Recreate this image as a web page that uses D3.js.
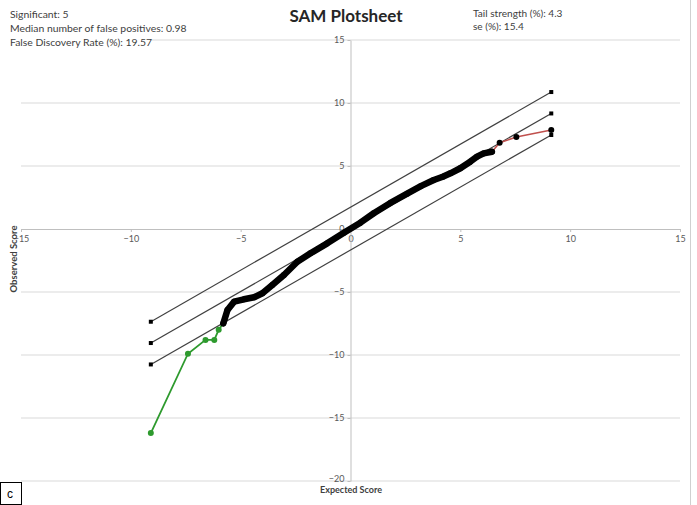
<!DOCTYPE html>
<html>
<head>
<meta charset="utf-8">
<script src="https://cdn.jsdelivr.net/npm/d3@7"></script>
<style>
  body { margin: 0; background: #fff; }
  svg { display: block; font-family: Lato, "Open Sans", sans-serif; }
</style>
</head>
<body>
<svg id="chart" width="697" height="505"></svg>
<script>
// tick values on both axes
var xTicks = [-15, -10, -5, 0, 5, 10, 15];
var yTicks = [-20, -15, -10, -5, 0, 5, 10, 15];

// delta band lines (expected, observed)
var upperBand = [[-9.09, -7.36], [9.14, 10.87]];
var middleBand = [[-9.09, -9.05], [9.14, 9.17]];
var lowerBand = [[-9.09, -10.75], [9.14, 7.46]];

// non significant genes
var blackPoints = [[-5.79, -7.49], [-5.6, -6.43], [-5.3, -5.77], [-4.85, -5.58], [-4.39, -5.42],
  [-4.01, -5.1], [-3.56, -4.44], [-3.03, -3.65], [-2.42, -2.6], [-1.82, -1.93], [-1.06, -1.14],
  [-0.3, -0.3], [0.45, 0.5], [1.06, 1.25], [1.8, 2.05], [2.58, 2.8], [3.2, 3.4], [3.79, 3.89],
  [4.2, 4.15], [4.55, 4.42], [5.0, 4.82], [5.45, 5.34], [5.76, 5.74], [6.06, 6.0], [6.44, 6.13]];

// significant up (red) and down (green)
var redPoints = [[6.44, 6.13], [6.79, 6.85], [7.55, 7.3], [9.14, 7.86]];
var greenPoints = [[-9.09, -16.2], [-7.4, -9.9], [-6.6, -8.8], [-6.2, -8.8], [-6.0, -8.0], [-5.79, -7.49]];

var infoLeft = ['Significant: 5', 'Median number of false positives: 0.98', 'False Discovery Rate (%): 19.57'];
var infoRight = ['Tail strength (%): 4.3', 'se (%): 15.4'];

var svg = d3.select('#chart');

var x = d3.scaleLinear().domain([-15, 15]).range([21, 680]);
var y = d3.scaleLinear().domain([-20, 15]).range([481, 40]);

/* gridlines */
svg.append('g').selectAll('line')
  .data(yTicks.filter(function(d) { return d !== 0; }))
  .enter().append('line')
  .attr('x1', x(-15)).attr('x2', x(15))
  .attr('y1', function(d) { return y(d); })
  .attr('y2', function(d) { return y(d); })
  .style('stroke', '#d9d9d9');

// right frame edge
svg.append('line')
  .attr('x1', 690.5).attr('x2', 690.5).attr('y1', 0).attr('y2', 505)
  .style('stroke', '#d0d0d0');

/* axes crossing at origin */
var xAxis = svg.append('g')
  .attr('transform', 'translate(0,' + y(0) + ')')
  .call(d3.axisBottom(x).tickValues(xTicks).tickSize(3).tickSizeOuter(0).tickPadding(4));
var yAxis = svg.append('g')
  .attr('transform', 'translate(' + x(0) + ',0)')
  .call(d3.axisLeft(y).tickValues(yTicks).tickSize(3).tickSizeOuter(0).tickPadding(3));

[xAxis, yAxis].forEach(function(a) {
  a.select('.domain').style('stroke', '#bfbfbf');
  a.selectAll('.tick line').style('stroke', '#bfbfbf');
  a.selectAll('.tick text').style('fill', '#595959').style('font-size', '9px')
    .style('font-family', 'Lato, sans-serif');
});
// -20 sits just above the bottom gridline
yAxis.selectAll('.tick text').filter(function(d) { return d === -20; }).attr('dy', '0');

var line = d3.line()
  .x(function(d) { return x(d[0]); })
  .y(function(d) { return y(d[1]); });

/* band lines */
[upperBand, middleBand, lowerBand].forEach(function(b) {
  svg.append('path').attr('d', line(b))
    .style('fill', 'none').style('stroke', '#404040').style('stroke-width', 1.2);
  svg.append('g').selectAll('rect').data(b).enter().append('rect')
    .attr('x', function(d) { return x(d[0]) - 2; })
    .attr('y', function(d) { return y(d[1]) - 2; })
    .attr('width', 4).attr('height', 4)
    .style('fill', '#000');
});

/* significant series */
svg.append('path').attr('d', line(greenPoints))
  .style('fill', 'none').style('stroke', '#2e9a2e').style('stroke-width', 1.8);
svg.append('g').selectAll('circle').data(greenPoints.slice(0, 5)).enter().append('circle')
  .attr('cx', function(d) { return x(d[0]); })
  .attr('cy', function(d) { return y(d[1]); })
  .attr('r', 3).style('fill', '#2e9a2e');

svg.append('path').attr('d', line(redPoints))
  .style('fill', 'none').style('stroke', '#c0504d').style('stroke-width', 1.5);

/* the bulk of genes */
svg.append('path').attr('d', line(blackPoints))
  .style('fill', 'none').style('stroke', '#000').style('stroke-width', 6.5)
  .style('stroke-linejoin', 'round').style('stroke-linecap', 'round');
svg.append('g').selectAll('circle').data(blackPoints.concat(redPoints.slice(1))).enter().append('circle')
  .attr('cx', function(d) { return x(d[0]); })
  .attr('cy', function(d) { return y(d[1]); })
  .attr('r', 3).style('fill', '#000');

/* titles */
svg.append('text').attr('x', 346).attr('y', 22)
  .attr('text-anchor', 'middle')
  .style('font-size', '17px').style('font-weight', 'bold').style('fill', '#262626')
  .text('SAM Plotsheet');

svg.append('text').attr('x', 351).attr('y', 493)
  .attr('text-anchor', 'middle')
  .style('font-size', '9px').style('font-weight', 'bold').style('fill', '#404040')
  .text('Expected Score');

svg.append('text')
  .attr('transform', 'translate(17,259) rotate(-90)')
  .attr('text-anchor', 'middle')
  .style('font-size', '9.5px').style('font-weight', 'bold').style('fill', '#404040')
  .text('Observed Score');

/* stats text boxes */
svg.append('rect').attr('x', 0).attr('y', 33).attr('width', 150).attr('height', 13).style('fill', '#fff');
svg.append('g').selectAll('text').data(infoLeft).enter().append('text')
  .attr('x', 10)
  .attr('y', function(d, i) { return 18 + i * 14; })
  .style('font-size', '10.4px').style('fill', '#404040')
  .text(function(d) { return d; });

svg.append('g').selectAll('text').data(infoRight).enter().append('text')
  .attr('x', 473)
  .attr('y', function(d, i) { return 17 + i * 13; })
  .style('font-size', '10.1px').style('fill', '#404040')
  .text(function(d) { return d; });

/* panel letter */
svg.append('rect').attr('x', 0.5).attr('y', 482.5).attr('width', 21).attr('height', 22)
  .style('fill', '#fff').style('stroke', '#000');
svg.append('text').attr('x', 7).attr('y', 498)
  .style('font-size', '12px').style('fill', '#000').style('font-family', 'Liberation Sans, sans-serif')
  .text('c');
</script>
</body>
</html>
